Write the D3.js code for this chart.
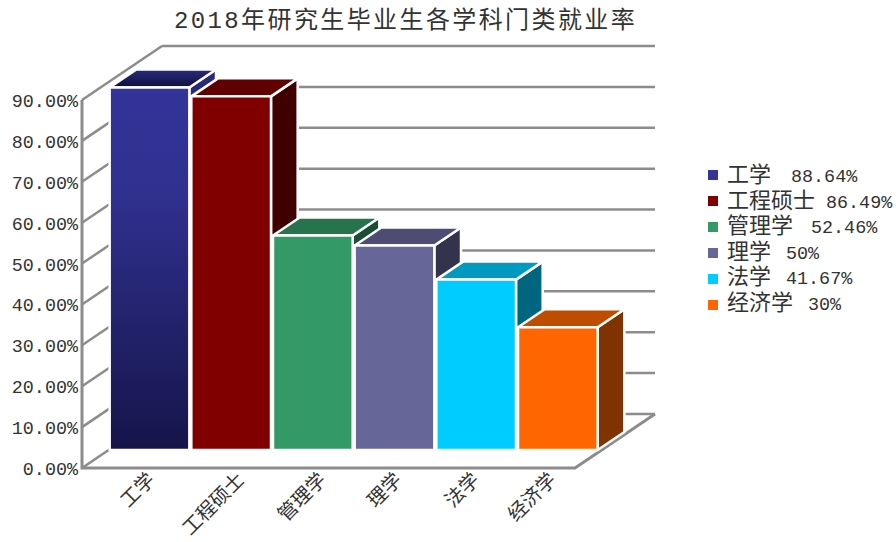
<!DOCTYPE html>
<html>
<head>
<meta charset="utf-8">
<script src="https://d3js.org/d3.v7.min.js"></script>
<style>
  body { margin: 0; background: #fff; }
  text { font-family: "Liberation Mono", "Noto Sans CJK SC", monospace; fill: #333; }
</style>
</head>
<body>
<script>
const width = 896;
const height = 542;

const categories = ["工学", "工程硕士", "管理学", "理学", "法学", "经济学"];
const values = [88.64, 86.49, 52.46, 50, 41.67, 30];
const valueLabels = ["88.64%", "86.49%", "52.46%", "50%", "41.67%", "30%"];
const colors = ["#333399", "#800000", "#339966", "#666699", "#00CCFF", "#FF6600"];
const yTicks = [0, 10, 20, 30, 40, 50, 60, 70, 80, 90];

const titleText = "2018年研究生毕业生各学科门类就业率";
const gridColor = "#8c8c8c";

// front plane of the box and how far the back wall is pushed
const floorY = 468;
const topY = 100;
const frontLeft = 82;
const frontRight = 575;
const depthX = 80;
const depthY = -54;

const y = d3.scaleLinear().domain([0, 90]).range([floorY, topY]);
const x = d3.scaleBand().domain(categories)
  .range([frontLeft + depthX / 3, frontLeft + depthX / 3 + 490]);

const barDx = depthX / 3;
const barDy = depthY / 3;
const barGap = 1;

const svg = d3.select("body")
  .append("svg")
  .attr("width", width)
  .attr("height", height);

const defs = svg.append("defs");
function shade(color, k) {
  const c = d3.rgb(color);
  return d3.rgb(c.r * k, c.g * k, c.b * k).formatHex();
}
const barGradient = defs.append("linearGradient")
  .attr("id", "firstBar").attr("x1", 0).attr("x2", 0).attr("y1", 0).attr("y2", 1);
barGradient.append("stop").attr("offset", "0%").attr("stop-color", "#333399");
barGradient.append("stop").attr("offset", "30%").attr("stop-color", "#30308f");
barGradient.append("stop").attr("offset", "100%").attr("stop-color", "#15154a");
const topGradient = defs.append("linearGradient")
  .attr("id", "firstTop").attr("x1", 0).attr("x2", 0).attr("y1", 0).attr("y2", 1);
topGradient.append("stop").attr("offset", "0%").attr("stop-color", "#2a2a7e");
topGradient.append("stop").attr("offset", "100%").attr("stop-color", "#0f0f3a");

// Title
svg.append("text")
  .text(titleText)
  .attr("x", 405.5)
  .attr("y", 28)
  .attr("text-anchor", "middle")
  .style("font-size", "24px")
  .style("letter-spacing", "2.4px");

// Back wall grid lines and their diagonals
yTicks.forEach(function (t) {
  svg.append("line")
    .attr("x1", frontLeft + depthX).attr("x2", frontRight + depthX)
    .attr("y1", y(t) + depthY).attr("y2", y(t) + depthY)
    .attr("stroke", gridColor).attr("stroke-width", 2.5);
  svg.append("line")
    .attr("x1", frontLeft).attr("y1", y(t))
    .attr("x2", frontLeft + depthX).attr("y2", y(t) + depthY)
    .attr("stroke", gridColor).attr("stroke-width", 2.5);
});

// Floor
svg.append("path")
  .attr("d", d3.line()([
    [frontLeft, topY],
    [frontLeft, floorY],
    [frontRight, floorY],
    [frontRight + depthX, floorY + depthY]
  ]))
  .attr("fill", "none")
  .attr("stroke", gridColor)
  .attr("stroke-width", 3);

// Bars, painted left to right so the next one covers the last one's side
const barFront = floorY + barDy;
categories.forEach(function (cat, i) {
  const x0 = x(cat) + barGap;
  const x1 = x(cat) + x.bandwidth() - barGap;
  const yTop = y(values[i]) + barDy;
  const g = svg.append("g")
    .attr("stroke", "#fff")
    .attr("stroke-width", 2.5)
    .attr("stroke-linejoin", "round");

  g.append("path")
    .attr("d", d3.line()([
      [x1, yTop], [x1 + barDx, yTop + barDy],
      [x1 + barDx, barFront + barDy], [x1, barFront]
    ]) + "Z")
    .attr("fill", i === 0 ? "url(#firstTop)" : shade(colors[i], 0.5));

  g.append("path")
    .attr("d", d3.line()([
      [x0, yTop], [x0 + barDx, yTop + barDy],
      [x1 + barDx, yTop + barDy], [x1, yTop]
    ]) + "Z")
    .attr("fill", i === 0 ? "url(#firstTop)" : shade(colors[i], 0.75));

  g.append("rect")
    .attr("x", x0)
    .attr("y", yTop)
    .attr("width", x1 - x0)
    .attr("height", barFront - yTop)
    .attr("fill", i === 0 ? "url(#firstBar)" : colors[i]);
});

// Y tick labels
svg.selectAll("text.ytick")
  .data(yTicks)
  .enter()
  .append("text")
  .attr("class", "ytick")
  .text(function (d) { return d3.format(".2f")(d) + "%"; })
  .attr("x", 78)
  .attr("y", function (d) { return y(d) + 7; })
  .attr("text-anchor", "end")
  .style("font-size", "18.4px");

// X labels, rotated. The original spacing is uneven, so nudge each one
const labelNudge = [1, 9, 9, 3, -1, -6];
svg.selectAll("text.xlabel")
  .data(categories)
  .enter()
  .append("text")
  .attr("class", "xlabel")
  .text(function (d) { return d; })
  .attr("text-anchor", "end")
  .attr("transform", function (d, i) {
    return "translate(" + (x(d) + 73 - barDx + labelNudge[i]) + ",481) rotate(-45)";
  })
  .style("font-size", "19.5px");

// Legend
const legendX = 708;
const legendY = 175;
const legendStep = 26;
const legendGaps = [20, 11, 18, 15, 15, 15];
const legend = svg.selectAll("g.legend")
  .data(categories)
  .enter()
  .append("g")
  .attr("class", "legend")
  .attr("transform", function (d, i) {
    return "translate(" + legendX + "," + (legendY + i * legendStep) + ")";
  });
legend.append("rect")
  .attr("y", -5)
  .attr("width", 10)
  .attr("height", 10)
  .attr("fill", function (d, i) { return colors[i]; });
legend.append("text")
  .attr("x", 19)
  .attr("y", function (d, i) { return 7 - i * 0.4; })
  .style("font-size", "22px")
  .text(function (d) { return d; })
  .append("tspan")
  .attr("dx", function (d, i) { return legendGaps[i]; })
  .style("font-size", "18.4px")
  .text(function (d, i) { return valueLabels[i]; });
</script>
</body>
</html>
